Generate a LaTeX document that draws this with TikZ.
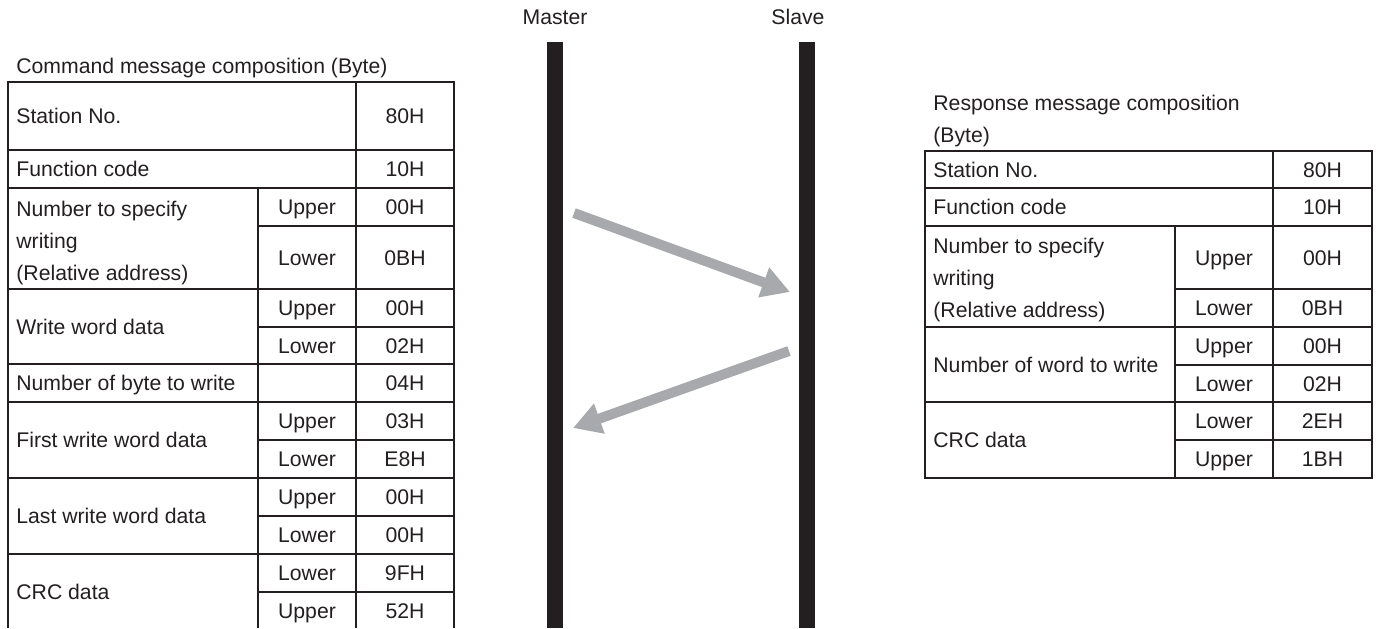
\documentclass[tikz,border=0pt]{standalone}
\usepackage{fontspec}
\setmainfont{Liberation Sans}
\usetikzlibrary{arrows.meta}
\definecolor{ink}{HTML}{231F20}
\definecolor{arrgray}{HTML}{A7A9AC}

\begin{document}
\begin{tikzpicture}[
      x=0.5pt, y=-0.5pt,
      font=\fontsize{10.6}{16}\selectfont, text=ink,
      cell/.style={inner sep=0pt, text height=7.6pt, text depth=0pt},
      lbl/.style={cell, anchor=west},
      multi/.style={inner sep=0pt, align=left, anchor=north west},
      grid/.style={draw=ink, line width=0.8pt},
      msg/.style={draw=arrgray, line width=5pt, -{Triangle[length=14pt,width=15pt]}},
    ]
    \useasboundingbox (0,0) rectangle (1380,628);

    % --- left: command message (master -> slave) ---
    \node[lbl] (cmd) at (16,66) {Command message composition (Byte)};
    \draw[grid] (8,628) -- (8,82) -- (454,82) -- (454,628);
    \draw[grid] (356,82) -- (356,628); \draw[grid] (258,188) -- (258,628);
    \foreach \y in {150,188,289,364,402,478,554} \draw[grid] (8,\y) -- (454,\y);
    \foreach \y in {226,327,440,516,592} \draw[grid] (258,\y) -- (454,\y);

    \node[lbl] (c-sta) at (16,116) {Station No.};
    \node[cell] (c-sta-v) at (405,116) {80H};
    \node[lbl] (c-fn) at (16,169) {Function code};
    \node[cell] (c-fn-v) at (405,169) {10H};
    \node[multi] (c-adr) at (16,200.5) {Number to specify\\writing\\(Relative address)};
    \node[cell] (c-adr-u) at (307,207) {Upper};   \node[cell] (c-adr-uv) at (405,207) {00H};
    \node[cell] (c-adr-l) at (307,257.5) {Lower}; \node[cell] (c-adr-lv) at (405,257.5) {0BH};
    \node[lbl] (c-wd) at (16,326.5) {Write word data};
    \node[cell] (c-wd-u) at (307,308) {Upper};    \node[cell] (c-wd-uv) at (405,308) {00H};
    \node[cell] (c-wd-l) at (307,345.5) {Lower};  \node[cell] (c-wd-lv) at (405,345.5) {02H};
    \node[lbl] (c-nb) at (16,383) {Number of byte to write};
    \node[cell] (c-nb-v) at (405,383) {04H};
    \node[lbl] (c-first) at (16,440) {First write word data};
    \node[cell] (c-first-u) at (307,421) {Upper}; \node[cell] (c-first-uv) at (405,421) {03H};
    \node[cell] (c-first-l) at (307,459) {Lower}; \node[cell] (c-first-lv) at (405,459) {E8H};
    \node[lbl] (c-last) at (16,516) {Last write word data};
    \node[cell] (c-last-u) at (307,497) {Upper};  \node[cell] (c-last-uv) at (405,497) {00H};
    \node[cell] (c-last-l) at (307,535) {Lower};  \node[cell] (c-last-lv) at (405,535) {00H};
    \node[lbl] (c-crc) at (16,592) {CRC data};
    \node[cell] (c-crc-l) at (307,573) {Lower};   \node[cell] (c-crc-lv) at (405,573) {9FH};
    \node[cell] (c-crc-u) at (307,611) {Upper};   \node[cell] (c-crc-uv) at (405,611) {52H};

    % --- middle: master and slave lines with the two messages ---
    \node[cell] (master) at (555,17) {Master};
    \node[cell] (slave) at (798,17) {Slave};
    \fill[ink] (547,42) rectangle (563,628);
    \fill[ink] (799,42) rectangle (815,628);
    \coordinate (req-a) at (574,213); \coordinate (req-b) at (790,292);
    \coordinate (rsp-a) at (789,351); \coordinate (rsp-b) at (573,428);
    \draw[msg] (req-a) -- (req-b);
    \draw[msg] (rsp-a) -- (rsp-b);

    % --- right: response message (slave -> master) ---
    \node[multi] (rsp) at (933,94.5) {Response message composition\\(Byte)};
    \draw[grid] (925,151) rectangle (1372,478);
    \draw[grid] (1273,151) -- (1273,478); \draw[grid] (1175,226) -- (1175,478);
    \foreach \y in {188,226,327,402} \draw[grid] (925,\y) -- (1372,\y);
    \foreach \y in {289,365,440} \draw[grid] (1175,\y) -- (1372,\y);

    \node[lbl] (r-sta) at (933,169.5) {Station No.};
    \node[cell] (r-sta-v) at (1322.5,169.5) {80H};
    \node[lbl] (r-fn) at (933,207) {Function code};
    \node[cell] (r-fn-v) at (1322.5,207) {10H};
    \node[multi] (r-adr) at (933,237.5) {Number to specify\\writing\\(Relative address)};
    \node[cell] (r-adr-u) at (1224,257.5) {Upper}; \node[cell] (r-adr-uv) at (1322.5,257.5) {00H};
    \node[cell] (r-adr-l) at (1224,308) {Lower};   \node[cell] (r-adr-lv) at (1322.5,308) {0BH};
    \node[lbl] (r-nw) at (933,364.5) {Number of word to write};
    \node[cell] (r-nw-u) at (1224,346) {Upper};    \node[cell] (r-nw-uv) at (1322.5,346) {00H};
    \node[cell] (r-nw-l) at (1224,383.5) {Lower};  \node[cell] (r-nw-lv) at (1322.5,383.5) {02H};
    \node[lbl] (r-crc) at (933,440) {CRC data};
    \node[cell] (r-crc-l) at (1224,421) {Lower};   \node[cell] (r-crc-lv) at (1322.5,421) {2EH};
    \node[cell] (r-crc-u) at (1224,459) {Upper};   \node[cell] (r-crc-uv) at (1322.5,459) {1BH};
  \end{tikzpicture}
\end{document}
